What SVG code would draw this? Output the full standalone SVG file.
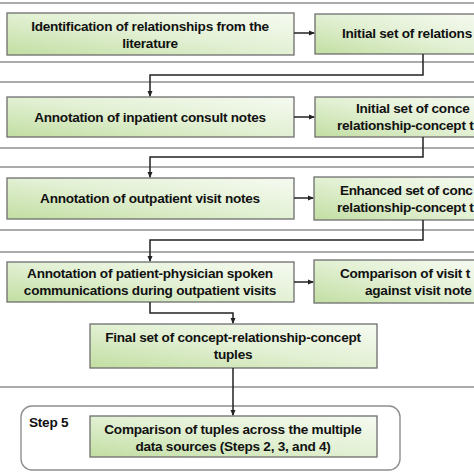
<svg xmlns="http://www.w3.org/2000/svg" width="474" height="474" viewBox="0 0 474 474">
<defs>
<linearGradient id="g" x1="1" y1="0" x2="0" y2="1">
<stop offset="0" stop-color="#f6faf1"/>
<stop offset="0.5" stop-color="#e2f0d3"/>
<stop offset="1" stop-color="#c2dea2"/>
</linearGradient>
<marker id="ah" markerWidth="6" markerHeight="6" refX="5" refY="3" orient="auto" markerUnits="userSpaceOnUse">
<path d="M0,0.5 L6,3 L0,5.5 Z" fill="#222"/>
</marker>
</defs>
<style>
.box{fill:url(#g);stroke:#6e6e6e;stroke-width:1.3}
.cont{fill:none;stroke:#8f8f8f;stroke-width:1.4}
.t{font-family:"Liberation Sans",Arial,sans-serif;font-weight:bold;font-size:13.6px;letter-spacing:-0.25px;fill:#111}
.c{text-anchor:middle}
.conn{fill:none;stroke:#222;stroke-width:1.5}
</style>
<rect width="474" height="474" fill="#fff"/>
<g id="containers">
<line class="cont" x1="0" y1="3" x2="474" y2="3"/>
<line class="cont" x1="0" y1="62" x2="474" y2="62"/>
<line class="cont" x1="0" y1="82" x2="474" y2="82"/>
<line class="cont" x1="0" y1="148" x2="474" y2="148"/>
<line class="cont" x1="0" y1="167" x2="474" y2="167"/>
<line class="cont" x1="0" y1="230" x2="474" y2="230"/>
<line class="cont" x1="0" y1="252" x2="474" y2="252"/>
<line class="cont" x1="0" y1="387" x2="474" y2="387"/>
<rect class="cont" x="21" y="406" width="379" height="64" rx="11"/>
<text class="t" x="29" y="427">Step 5</text>
</g>
<g id="n1"><rect class="box" x="7" y="13" width="287" height="42"/>
<text class="t c" x="150" y="31">Identification of relationships from the</text>
<text class="t c" x="150" y="48">literature</text></g>
<g id="r1"><rect class="box" x="315" y="14" width="165" height="40"/>
<text class="t" x="342" y="38">Initial set of relations</text></g>
<g id="n2"><rect class="box" x="7" y="97" width="287" height="40"/>
<text class="t c" x="150" y="122">Annotation of inpatient consult notes</text></g>
<g id="r2"><rect class="box" x="315" y="97" width="165" height="40"/>
<text class="t" x="356" y="113">Initial set of conce</text>
<text class="t" x="337" y="130">relationship-concept t</text></g>
<g id="n3"><rect class="box" x="7" y="178" width="287" height="41"/>
<text class="t c" x="150" y="203">Annotation of outpatient visit notes</text></g>
<g id="r3"><rect class="box" x="314" y="177" width="165" height="43"/>
<text class="t" x="340" y="195" style="letter-spacing:-0.4px">Enhanced set of conc</text>
<text class="t" x="337" y="212">relationship-concept t</text></g>
<g id="n4"><rect class="box" x="7" y="262" width="287" height="40"/>
<text class="t c" x="150" y="278">Annotation of patient-physician spoken</text>
<text class="t c" x="150" y="295">communications during outpatient visits</text></g>
<g id="r4"><rect class="box" x="314" y="260" width="165" height="43"/>
<text class="t" x="340" y="278">Comparison of visit t</text>
<text class="t" x="365" y="295">against visit note</text></g>
<g id="n5"><rect class="box" x="90" y="324" width="287" height="44"/>
<text class="t c" x="233" y="342">Final set of concept-relationship-concept</text>
<text class="t c" x="233" y="359">tuples</text></g>
<g id="n6"><rect class="box" x="90" y="416" width="287" height="41"/>
<text class="t c" x="233" y="434">Comparison of tuples across the multiple</text>
<text class="t c" x="233" y="451">data sources (Steps 2, 3, and 4)</text></g>
<g id="connectors">
<line class="conn" x1="294" y1="33" x2="314" y2="33" marker-end="url(#ah)"/>
<line class="conn" x1="294" y1="117" x2="314" y2="117" marker-end="url(#ah)"/>
<line class="conn" x1="294" y1="198" x2="313" y2="198" marker-end="url(#ah)"/>
<line class="conn" x1="294" y1="282" x2="313" y2="282" marker-end="url(#ah)"/>
<path class="conn" d="M423,54 V75 H150 V96" marker-end="url(#ah)"/>
<path class="conn" d="M423,137 V157 H150 V177" marker-end="url(#ah)"/>
<path class="conn" d="M423,220 V240 H150 V261" marker-end="url(#ah)"/>
<path class="conn" d="M150,302 V313 H233 V323" marker-end="url(#ah)"/>
<path class="conn" d="M233,368 V415" marker-end="url(#ah)"/>
</g>
</svg>
